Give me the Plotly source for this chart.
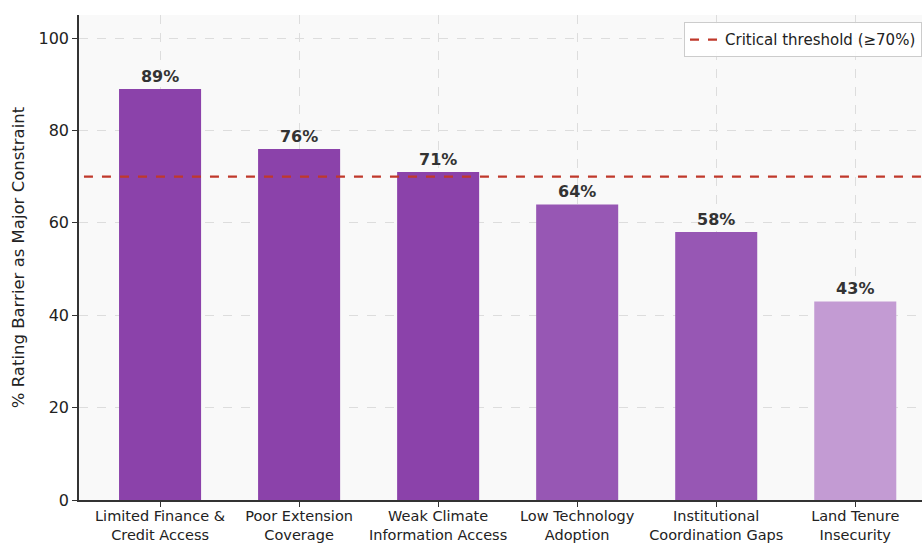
import plotly.graph_objects as go

categories = [
    "Limited Finance &<br>Credit Access",
    "Poor Extension<br>Coverage",
    "Weak Climate<br>Information Access",
    "Low Technology<br>Adoption",
    "Institutional<br>Coordination Gaps",
    "Land Tenure<br>Insecurity",
]
values = [89, 76, 71, 64, 58, 43]
bar_colors = ["#8b42aa", "#8b42aa", "#8b42aa", "#9757b4", "#9757b4", "#c39bd3"]
threshold = 70
y_ticks = [0, 20, 40, 60, 80, 100]

font_family = "DejaVu Sans"
x_lo, x_hi = -0.583, 5.48

fig = go.Figure()
fig.add_trace(go.Bar(
    x=list(range(len(categories))),
    y=values,
    marker=dict(color=bar_colors, line=dict(width=0)),
    width=0.59,
    text=[f"{v}%" for v in values],
    textposition="outside",
    textfont=dict(family=font_family, size=16, color="#333333", weight="bold"),
    cliponaxis=False,
    showlegend=False,
))
fig.add_trace(go.Scatter(
    x=[x_lo - 1, x_hi + 1],
    y=[threshold, threshold],
    mode="lines",
    line=dict(color="#c0392b", width=2.2, dash="dash"),
    name="Critical threshold (≥70%)",
))

fig.update_layout(
    width=922, height=544,
    margin=dict(l=79, r=0, t=15, b=44, autoexpand=False),
    paper_bgcolor="white",
    plot_bgcolor="#f9f9f9",
    font=dict(family=font_family, color="#222222"),
    bargap=0.4,
    legend=dict(
        x=1.0, y=0.985, xanchor="right", yanchor="top",
        bgcolor="rgba(255,255,255,0.9)", bordercolor="#cccccc", borderwidth=1,
        font=dict(size=15, color="#222222"),
        itemwidth=30,
    ),
)
fig.update_xaxes(
    range=[x_lo, x_hi],
    automargin=False,
    tickmode="array",
    tickvals=list(range(len(categories))),
    ticktext=categories,
    tickfont=dict(size=14.5, color="#222222"),
    ticklabelstandoff=-3,
    ticks="outside", ticklen=5, tickcolor="#333333",
    showline=True, linecolor="#333333", linewidth=1.5,
    showgrid=True, gridcolor="#dddddd", griddash="dash", gridwidth=1,
    zeroline=False,
)
fig.update_yaxes(
    range=[0, 105],
    automargin=False,
    tickvals=y_ticks,
    tickfont=dict(size=16, color="#222222"),
    ticks="outside", ticklen=5, tickcolor="#333333",
    showline=True, linecolor="#333333", linewidth=1.5,
    showgrid=True, gridcolor="#dddddd", griddash="dash", gridwidth=1,
    zeroline=False,
    title=dict(text="% Rating Barrier as Major Constraint", font=dict(size=16.5, color="#222222"), standoff=10),
)

fig.write_html("out.html")
